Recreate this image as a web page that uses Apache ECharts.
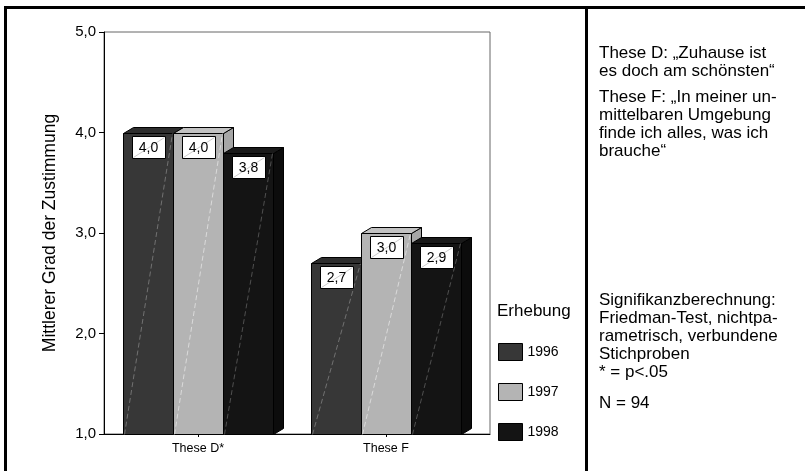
<!DOCTYPE html>
<html>
<head>
<meta charset="utf-8">
<style>
  html, body { margin: 0; padding: 0; background: #fff; }
  #chart { width: 805px; height: 471px; }
</style>
<script src="https://cdn.jsdelivr.net/npm/echarts@6/dist/echarts.min.js"></script>
</head>
<body>
<div id="chart"></div>
<script>
// Mean agreement per thesis and survey year
const categories = ['These D*', 'These F'];
const years = ['1996', '1997', '1998'];
const values1996 = [4.0, 2.7];
const values1997 = [4.0, 3.0];
const values1998 = [3.8, 2.9];
const yMin = 1, yMax = 5, yStep = 1;

const yAxisTitle = 'Mittlerer Grad der Zustimmung';
const legendTitle = 'Erhebung';
const noteTheses = ['These D: \u201EZuhause ist', 'es doch am sch\u00F6nsten\u201C'];
const noteThesisF = ['These F: \u201EIn meiner un-', 'mittelbaren Umgebung', 'finde ich alles, was ich', 'brauche\u201C'];
const noteTest = ['Signifikanzberechnung:', 'Friedman-Test, nichtpa-', 'rametrisch, verbundene', 'Stichproben', '* = p<.05'];
const noteN = 'N = 94';

const FONT = "'Liberation Sans', Arial, Helvetica, sans-serif";

// front / top / side shades for each year
const shades = [
  { front: '#373737', top: '#2e2e2e', side: '#262626', hatch: 'rgba(200,200,200,0.40)' },
  { front: '#b4b4b4', top: '#c2c2c2', side: '#a6a6a6', hatch: 'rgba(255,255,255,0.50)' },
  { front: '#141414', top: '#1a1a1a', side: '#0c0c0c', hatch: 'rgba(190,190,190,0.35)' }
];
const seriesValues = [values1996, values1997, values1998];

const fmt = v => v.toFixed(1).replace('.', ',');

function makeRender(si) {
  return function (params, api) {
    const cat = api.value(0);
    const val = api.value(1);
    const topPt = api.coord([cat, val]);
    const basePt = api.coord([cat, yMin]);
    const band = api.size([1, 0])[0];
    const groupW = band * 0.803;
    const barW = groupW / 3;
    const x0 = Math.round(topPt[0] - groupW / 2 + si * barW) + 0.5;
    const x1 = Math.round(topPt[0] - groupW / 2 + (si + 1) * barW) + 0.5;
    const top = Math.round(topPt[1]) + 0.5;
    const bottom = Math.round(basePt[1]) + 0.5;
    const dx = Math.round(barW * 0.2);
    const dy = -6;
    const s = shades[si];
    const edge = { stroke: '#000', lineWidth: 1 };
    const cx = (x0 + x1) / 2;
    const bw = 33, bh = 22;
    const bx = Math.round(cx - bw / 2) + 0.5;
    const by = top + 3;
    return {
      type: 'group',
      children: [
        { type: 'polygon', shape: { points: [[x1, top], [x1 + dx, top + dy], [x1 + dx, bottom + dy], [x1, bottom]] },
          style: Object.assign({ fill: s.side }, edge) },
        { type: 'polygon', shape: { points: [[x0, top], [x0 + dx, top + dy], [x1 + dx, top + dy], [x1, top]] },
          style: Object.assign({ fill: s.top }, edge) },
        { type: 'rect', shape: { x: x0, y: top, width: x1 - x0, height: bottom - top },
          style: Object.assign({ fill: s.front }, edge) },
        { type: 'line', shape: { x1: x0 + 1, y1: bottom, x2: x1 - 1, y2: top },
          style: { stroke: s.hatch, lineWidth: 1, lineDash: [5, 3] } },
        { type: 'rect', shape: { x: bx, y: by, width: bw, height: bh },
          style: { fill: '#fff', stroke: '#000', lineWidth: 1 } },
        { type: 'line', shape: { x1: bx + 1, y1: by + bh - 1, x2: bx + bw - 1, y2: by + 1 },
          style: { stroke: 'rgba(150,150,150,0.5)', lineWidth: 1 } },
        { type: 'text', style: { text: fmt(val), x: cx, y: by + bh / 2 + 1, textAlign: 'center', textVerticalAlign: 'middle',
          fontSize: 14, fontFamily: FONT, fill: '#000' } }
      ]
    };
  };
}

function noteText(lines, left, top) {
  return { type: 'text', left: left, top: top,
    style: { text: lines.join('\n'), fontSize: 17, lineHeight: 18, fontFamily: FONT, fill: '#000' } };
}

const chart = echarts.init(document.getElementById('chart'), null, { renderer: 'canvas' });

chart.setOption({
  animation: false,
  backgroundColor: '#fff',
  textStyle: { fontFamily: FONT },
  grid: [
    { left: 104, right: 315, top: 32, bottom: 37, show: true, borderColor: '#666', borderWidth: 1, backgroundColor: 'transparent' },
    { left: 104, right: 325, top: 32, bottom: 37 }
  ],
  xAxis: [
    { gridIndex: 0, type: 'value', min: 0, max: 1, axisLine: { show: true, lineStyle: { color: '#000', width: 1 } },
      axisTick: { show: false }, axisLabel: { show: false }, splitLine: { show: false } },
    { gridIndex: 1, type: 'category', data: categories, axisLine: { show: false },
      axisTick: { show: true, alignWithLabel: true, length: 3, lineStyle: { color: '#000' } },
      axisLabel: { fontSize: 12.5, color: '#000', margin: 8, fontFamily: FONT } }
  ],
  yAxis: [
    { gridIndex: 0, type: 'value', min: yMin, max: yMax, interval: yStep,
      name: yAxisTitle, nameLocation: 'middle', nameGap: 45, nameRotate: 90,
      nameTextStyle: { fontSize: 17.5, color: '#000', fontFamily: FONT },
      axisLine: { show: true, lineStyle: { color: '#000', width: 1 } },
      axisTick: { show: true, length: 5, lineStyle: { color: '#000' } },
      axisLabel: { fontSize: 15, color: '#000', margin: 8, formatter: v => fmt(v), fontFamily: FONT },
      splitLine: { show: false } },
    { gridIndex: 1, type: 'value', min: yMin, max: yMax, interval: yStep, show: false }
  ],
  legend: {
    orient: 'vertical', left: 498, top: 343, itemWidth: 24, itemHeight: 17, itemGap: 22,
    padding: 0, icon: 'rect', selectedMode: false,
    itemStyle: { borderColor: '#000', borderWidth: 1 },
    textStyle: { fontSize: 14, color: '#000', fontFamily: FONT },
    data: years
  },
  series: years.map((y, i) => ({
    name: y,
    type: 'custom',
    xAxisIndex: 1, yAxisIndex: 1,
    itemStyle: { color: shades[i].front, borderColor: '#000', borderWidth: 1 },
    renderItem: makeRender(i),
    data: seriesValues[i].map((v, c) => [c, v]),
    z: 2 + i
  })),
  graphic: [
    // outer frame and divider of the note panel
    { type: 'rect', shape: { x: 4, y: 6, width: 801, height: 3 }, style: { fill: '#000' } },
    { type: 'rect', shape: { x: 4, y: 6, width: 3, height: 465 }, style: { fill: '#000' } },
    { type: 'rect', shape: { x: 585, y: 6, width: 3, height: 465 }, style: { fill: '#000' } },
    { type: 'text', left: 497, top: 303, style: { text: legendTitle, fontSize: 17, fontFamily: FONT, fill: '#000' } },
    noteText(noteTheses, 599, 44),
    noteText(noteThesisF, 599, 88),
    noteText(noteTest, 599, 291),
    noteText([noteN], 599, 394)
  ]
});
</script>
</body>
</html>
